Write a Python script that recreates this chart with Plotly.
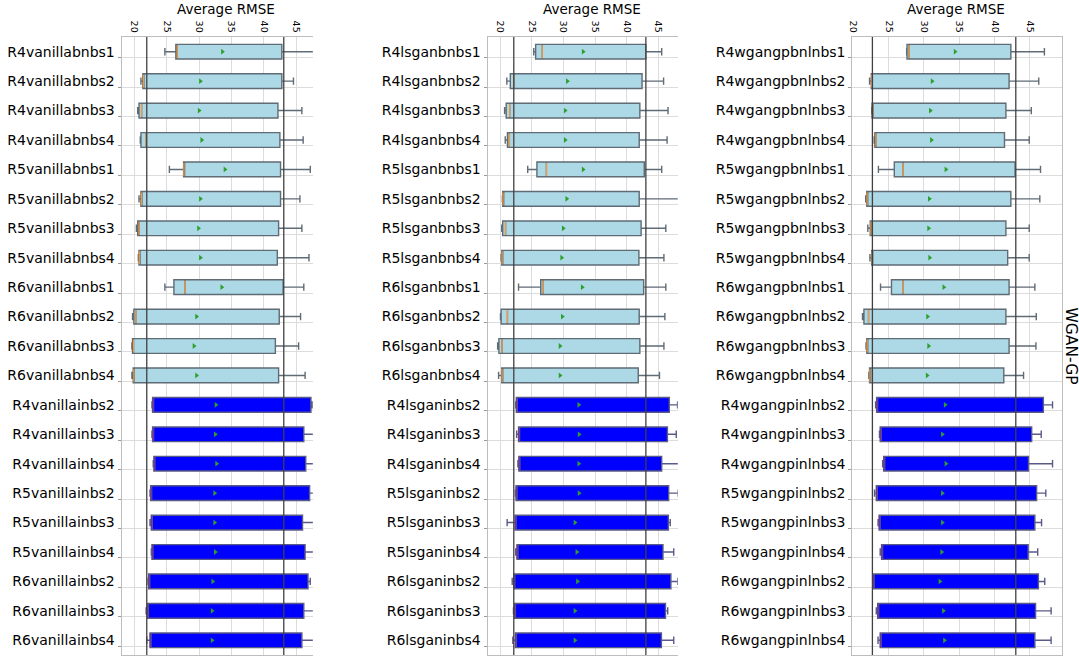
import plotly.graph_objects as go

# ---- data -------------------------------------------------------------
vanilla_labels = ["R4vanillabnbs1", "R4vanillabnbs2", "R4vanillabnbs3", "R4vanillabnbs4",
                  "R5vanillabnbs1", "R5vanillabnbs2", "R5vanillabnbs3", "R5vanillabnbs4",
                  "R6vanillabnbs1", "R6vanillabnbs2", "R6vanillabnbs3", "R6vanillabnbs4",
                  "R4vanillainbs2", "R4vanillainbs3", "R4vanillainbs4",
                  "R5vanillainbs2", "R5vanillainbs3", "R5vanillainbs4",
                  "R6vanillainbs2", "R6vanillainbs3", "R6vanillainbs4"]
vanilla_lower = [24.7, 21.0, 20.5, 20.9, 25.4, 20.7, 20.3, 20.6, 24.7, 19.7, 19.6, 19.6,
                 22.7, 22.7, 22.9, 22.4, 22.4, 22.6, 22.1, 21.8, 21.9]
vanilla_q1 = [26.4, 21.3, 20.7, 21.0, 27.6, 21.0, 20.5, 20.7, 26.1, 19.9, 19.7, 19.8,
              22.8, 22.8, 23.0, 22.5, 22.6, 22.7, 22.2, 22.0, 22.4]
vanilla_median = [26.6, 21.4, 21.1, 21.8, 27.65, 21.1, 20.7, 20.75, 27.8, 20.2, 19.85, 19.9,
                  22.85, 22.9, 23.1, 22.6, 22.65, 22.8, 22.25, 22.05, 22.45]
vanilla_q3 = [42.8, 42.8, 42.2, 42.5, 42.6, 42.6, 42.3, 42.1, 43.0, 42.4, 41.8, 42.3,
              47.3, 46.2, 46.5, 47.1, 46.0, 46.4, 46.85, 46.2, 45.9]
vanilla_upper = [48.5, 44.6, 45.9, 46.1, 47.2, 45.6, 45.9, 47.0, 46.2, 45.7, 45.4, 46.4,
                 47.5, 48.0, 48.2, 47.9, 48.0, 48.0, 47.2, 48.0, 48.0]
vanilla_mean = [33.6, 30.2, 30.0, 30.4, 34.0, 30.2, 29.9, 30.2, 33.5, 29.6, 29.2, 29.6,
                32.6, 32.5, 32.7, 32.4, 32.4, 32.5, 32.1, 32.0, 32.0]

lsgan_labels = ["R4lsganbnbs1", "R4lsganbnbs2", "R4lsganbnbs3", "R4lsganbnbs4",
                "R5lsganbnbs1", "R5lsganbnbs2", "R5lsganbnbs3", "R5lsganbnbs4",
                "R6lsganbnbs1", "R6lsganbnbs2", "R6lsganbnbs3", "R6lsganbnbs4",
                "R4lsganinbs2", "R4lsganinbs3", "R4lsganinbs4",
                "R5lsganinbs2", "R5lsganinbs3", "R5lsganinbs4",
                "R6lsganinbs2", "R6lsganinbs3", "R6lsganinbs4"]
lsgan_lower = [25.3, 21.05, 20.7, 20.8, 24.35, 20.35, 20.25, 20.15, 22.9, 20.05, 19.6, 19.75,
               22.45, 22.6, 22.8, 22.4, 21.1, 22.45, 21.9, 22.1, 22.0]
lsgan_q1 = [25.6, 21.6, 20.95, 21.15, 25.8, 20.4, 20.4, 20.25, 26.4, 20.15, 19.8, 20.25,
            22.55, 22.9, 22.95, 22.5, 22.35, 22.65, 22.15, 22.25, 22.4]
lsgan_median = [26.65, 22.15, 21.5, 21.45, 27.3, 20.45, 20.85, 20.3, 26.8, 21.15, 20.3, 20.3,
                22.6, 22.95, 23.0, 22.55, 22.4, 22.7, 22.2, 22.3, 22.45]
lsgan_q3 = [43.0, 42.4, 42.05, 41.95, 42.75, 41.95, 42.25, 41.9, 42.65, 41.95, 42.05, 41.8,
            46.7, 46.4, 45.5, 46.6, 46.55, 45.7, 46.95, 46.1, 45.45]
lsgan_upper = [45.5, 45.8, 46.5, 46.35, 45.5, 48.5, 46.15, 45.85, 46.15, 46.0, 45.85, 45.15,
               48.0, 47.8, 48.3, 48.1, 46.85, 47.4, 48.05, 46.45, 47.4]
lsgan_mean = [33.1, 30.6, 30.25, 30.25, 33.1, 30.5, 29.95, 29.7, 32.95, 29.8, 29.45, 29.45,
              32.4, 32.45, 32.4, 32.45, 31.8, 32.1, 32.2, 31.8, 31.8]

wgan_labels = ["R4wgangpbnlnbs1", "R4wgangpbnlnbs2", "R4wgangpbnlnbs3", "R4wgangpbnlnbs4",
               "R5wgangpbnlnbs1", "R5wgangpbnlnbs2", "R5wgangpbnlnbs3", "R5wgangpbnlnbs4",
               "R6wgangpbnlnbs1", "R6wgangpbnlnbs2", "R6wgangpbnlnbs3", "R6wgangpbnlnbs4",
               "R4wgangpinlnbs2", "R4wgangpinlnbs3", "R4wgangpinlnbs4",
               "R5wgangpinlnbs2", "R5wgangpinlnbs3", "R5wgangpinlnbs4",
               "R6wgangpinlnbs2", "R6wgangpinlnbs3", "R6wgangpinlnbs4"]
wgan_lower = [27.55, 22.3, 22.6, 22.95, 23.55, 21.75, 22.05, 22.35, 23.85, 21.3, 21.8, 22.2,
              23.15, 23.7, 24.15, 23.0, 23.5, 23.8, 22.75, 23.25, 23.5]
wgan_q1 = [27.6, 22.55, 22.65, 23.05, 25.8, 21.9, 22.4, 22.6, 25.4, 21.5, 21.9, 22.3,
           23.3, 23.8, 24.3, 23.25, 23.65, 24.0, 22.8, 23.45, 23.8]
wgan_median = [27.9, 22.6, 22.75, 23.2, 27.05, 21.95, 22.5, 22.65, 27.05, 22.15, 21.95, 22.35,
               23.35, 23.85, 24.35, 23.3, 23.7, 24.05, 22.85, 23.5, 23.85]
wgan_q3 = [42.3, 42.05, 41.6, 41.4, 42.9, 42.3, 41.6, 41.85, 42.05, 41.6, 42.05, 41.3,
           46.9, 45.25, 44.8, 45.95, 45.7, 44.75, 46.2, 45.8, 45.7]
wgan_upper = [47.05, 46.25, 45.2, 44.9, 46.5, 46.4, 44.9, 44.9, 45.7, 45.9, 45.85, 44.1,
              48.2, 46.6, 48.2, 47.25, 46.65, 46.1, 47.1, 48.0, 48.0]
wgan_mean = [34.4, 31.15, 30.9, 31.05, 33.1, 30.75, 30.65, 30.8, 32.8, 30.5, 30.65, 30.45,
             33.0, 32.6, 33.1, 32.6, 32.6, 32.5, 32.25, 32.75, 32.9]

# reference RMSE levels marked with vertical lines in each panel
vanilla_refs = [21.9, 43.1]
lsgan_refs = [22.15, 43.0]
wgan_refs = [22.7, 43.0]

x_ticks = [20, 25, 30, 35, 40, 45]
n_bn = 12  # first rows are the "bn" variants (light boxes), the rest "in" variants

# ---- layout constants -------------------------------------------------
W, H = 1079, 658
FONT = "DejaVu Sans"
LIGHT_FILL, LIGHT_LINE = "#add8e6", "#5f6b75"
DARK_FILL, DARK_LINE = "#0000ff", "#5a5a88"
MEDIAN_LIGHT = "#f59a3c"
MEDIAN_DARK = "#6a3399"
MEAN_COLOR = "#2ca02c"

panels = [
    dict(labels=vanilla_labels, lower=vanilla_lower, q1=vanilla_q1, median=vanilla_median,
         q3=vanilla_q3, upper=vanilla_upper, mean=vanilla_mean, refs=vanilla_refs,
         px=(118, 310), xr=[18.0, 47.6], title_x=223, right_spine=False),
    dict(labels=lsgan_labels, lower=lsgan_lower, q1=lsgan_q1, median=lsgan_median,
         q3=lsgan_q3, upper=lsgan_upper, mean=lsgan_mean, refs=lsgan_refs,
         px=(485.3, 676.3), xr=[18.0, 48.04], title_x=590, right_spine=False),
    dict(labels=wgan_labels, lower=wgan_lower, q1=wgan_q1, median=wgan_median,
         q3=wgan_q3, upper=wgan_upper, mean=wgan_mean, refs=wgan_refs,
         px=(851.5, 1061.5), xr=[19.86, 49.48], title_x=956, right_spine=True),
]

y_dom = [1 - 655 / H, 1 - 37 / H]
BOX_W = 0.5

fig = go.Figure()
layout = dict(
    width=W, height=H,
    margin=dict(l=0, r=0, t=0, b=0),
    paper_bgcolor="white", plot_bgcolor="white",
    showlegend=False,
    font=dict(family=FONT, color="black"),
    shapes=[], annotations=[],
)

for k, p in enumerate(panels, start=1):
    xa = "x" if k == 1 else f"x{k}"
    ya = "y" if k == 1 else f"y{k}"
    n = len(p["labels"])
    pos = list(range(1, n + 1))

    groups = [(slice(0, n_bn), LIGHT_FILL, LIGHT_LINE, MEDIAN_LIGHT),
              (slice(n_bn, n), DARK_FILL, DARK_LINE, MEDIAN_DARK)]
    for sl, fill, line, mcol in groups:
        fig.add_trace(go.Box(
            y=pos[sl], q1=p["q1"][sl], median=p["median"][sl], q3=p["q3"][sl],
            lowerfence=p["lower"][sl], upperfence=p["upper"][sl],
            orientation="h", width=BOX_W, whiskerwidth=0.5,
            fillcolor=fill, line=dict(color=line, width=1.4),
            boxpoints=False, hoverinfo="skip",
            xaxis=xa, yaxis=ya,
        ))

        # median ticks drawn over the boxes
        mx, my = [], []
        for m, y in zip(p["median"][sl], pos[sl]):
            mx += [m, m, None]
            my += [y - BOX_W / 2 + 0.03, y + BOX_W / 2 - 0.03, None]
        fig.add_trace(go.Scatter(x=mx, y=my, mode="lines",
                                 line=dict(color=mcol, width=1.2),
                                 hoverinfo="skip", xaxis=xa, yaxis=ya))

    # mean markers
    fig.add_trace(go.Scatter(x=p["mean"], y=pos, mode="markers",
                             marker=dict(symbol="triangle-right", size=5, color=MEAN_COLOR),
                             hoverinfo="skip", xaxis=xa, yaxis=ya))

    dom = [p["px"][0] / W, p["px"][1] / W]
    layout["xaxis" if k == 1 else f"xaxis{k}"] = dict(
        domain=dom, range=p["xr"], anchor=ya, side="top",
        tickmode="array", tickvals=x_ticks, ticktext=[str(t) for t in x_ticks],
        tickangle=90, tickfont=dict(size=9.5, family=FONT, color="black"),
        ticks="",
        showgrid=True, gridcolor="#dcdcdc", gridwidth=1,
        zeroline=False, showline=True, mirror=True, linecolor="#bdbdbd", linewidth=1,
    )
    layout["yaxis" if k == 1 else f"yaxis{k}"] = dict(
        domain=y_dom, range=[n + 0.5, 0.5], anchor=xa,
        tickmode="array", tickvals=pos, ticktext=p["labels"],
        tickfont=dict(size=14, family=FONT, color="black"),
        ticks="", ticklabelstandoff=3, showgrid=False, zeroline=False,
        showline=True, mirror=p["right_spine"], linecolor="#bdbdbd", linewidth=1,
        minor=dict(tickmode="array", tickvals=[v + 0.2 for v in pos],
                   showgrid=True, gridcolor="#dcdcdc", gridwidth=1,
                   ticks="outside", ticklen=3, tickcolor="#9a9a9a"),
    )

    for r in p["refs"]:
        layout["shapes"].append(dict(
            type="line", xref=xa, yref=f"{ya} domain", x0=r, x1=r, y0=0, y1=1,
            line=dict(color="#404040", width=1.3), layer="above"))

    layout["annotations"].append(dict(
        text="Average RMSE", xref="paper", yref="paper",
        x=p["title_x"] / W, y=1 - 9.5 / H, xanchor="center", yanchor="middle",
        showarrow=False, font=dict(size=13.5, family=FONT, color="black")))

layout["annotations"].append(dict(
    text="WGAN-GP", xref="paper", yref="paper",
    x=1071 / W, y=1 - 345.5 / H, xanchor="center", yanchor="middle",
    textangle=90, showarrow=False, font=dict(size=15.5, family=FONT, color="black")))

fig.update_layout(**layout)
fig.write_html("out.html")
